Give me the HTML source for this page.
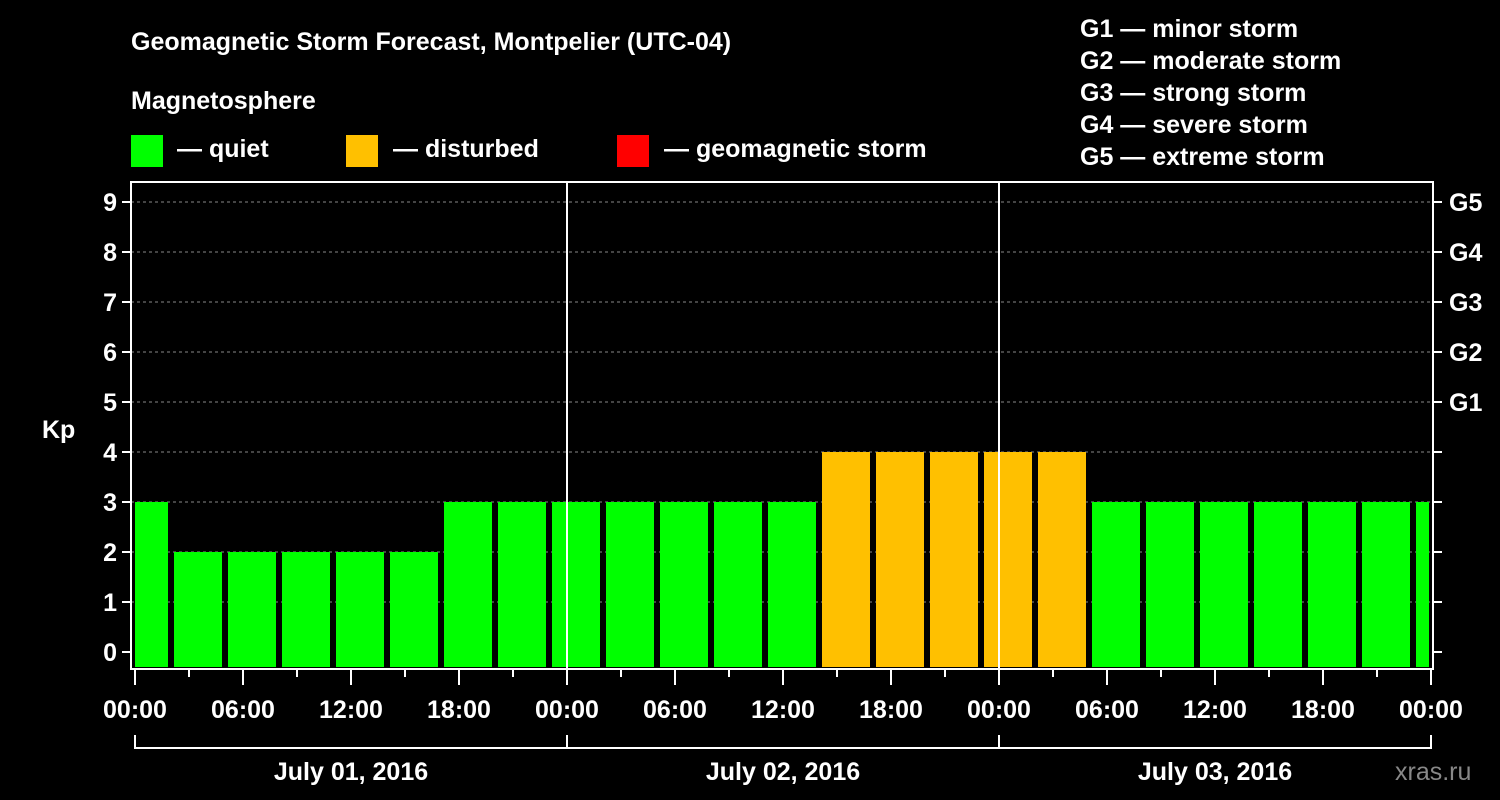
<!DOCTYPE html>
<html><head><meta charset="utf-8"><style>
body{margin:0;background:#000;width:1500px;height:800px;overflow:hidden}
svg{display:block;font-family:"Liberation Sans",Arial,sans-serif;font-weight:bold}
</style></head><body>
<svg id="c" width="1500" height="800">
<text x="131" y="50" fill="#fff" font-size="25">Geomagnetic Storm Forecast, Montpelier (UTC-04)</text>
<text x="131" y="109" fill="#fff" font-size="25">Magnetosphere</text>
<g><rect x="131" y="135" width="32" height="32" fill="#00ff00"/><text x="177" y="157" fill="#fff" font-size="25">— quiet</text></g>
<g><rect x="346" y="135" width="32" height="32" fill="#ffc000"/><text x="393" y="157" fill="#fff" font-size="25">— disturbed</text></g>
<g><rect x="617" y="135" width="32" height="32" fill="#ff0000"/><text x="664" y="157" fill="#fff" font-size="25">— geomagnetic storm</text></g>
<g fill="#fff" font-size="25">
<text x="1080" y="37">G1 — minor storm</text><text x="1080" y="69">G2 — moderate storm</text><text x="1080" y="101">G3 — strong storm</text><text x="1080" y="133">G4 — severe storm</text><text x="1080" y="165">G5 — extreme storm</text></g>
<text x="42" y="438" fill="#fff" font-size="25">Kp</text>
<text x="1395" y="780" fill="#888" font-size="25" font-weight="normal">xras.ru</text>
<g id="plot"></g>
</svg>
<script>
const kpValues=[3,2,2,2,2,2,3,3,3,3,3,3,3,4,4,4,4,4,3,3,3,3,3,3,3];
const yTicks=[0,1,2,3,4,5,6,7,8,9];
const gLabels=["G1","G2","G3","G4","G5"];
const xTickLabels=["00:00","06:00","12:00","18:00","00:00","06:00","12:00","18:00","00:00","06:00","12:00","18:00","00:00"];
const dayLabels=["July 01, 2016","July 02, 2016","July 03, 2016"];
const firstBarHour=-1;
const X0=135,PX_H=18,L=131,R=1433,T=182,B=669;
const x=h=>X0+h*PX_H;
const y=v=>652-50*v;
const NS="http://www.w3.org/2000/svg";
const g=document.getElementById('plot');
function mk(t,a,p){const e=document.createElementNS(NS,t);for(const k in a)e.setAttribute(k,a[k]);(p||g).appendChild(e);return e;}
yTicks.forEach(v=>{
  if(v>0){const l=mk('line',{x1:L,x2:R,y1:y(v),y2:y(v),stroke:'#888','stroke-dasharray':'3,3','stroke-width':1});
  
  }
  const t=mk('line',{x1:L-9,x2:L,y1:y(v),y2:y(v),stroke:'#fff','stroke-width':2});
  
  
  const t2=mk('line',{x1:R,x2:R+9,y1:y(v),y2:y(v),stroke:'#fff','stroke-width':2});
  
  
  const tx=mk('text',{x:L-14,y:y(v)+9,fill:'#fff','font-size':25,'text-anchor':'end'});
  tx.textContent=v;
  
  
});
gLabels.forEach((s,i)=>{
  const tx=mk('text',{x:R+16,y:y(5+i)+9,fill:'#fff','font-size':25});
  tx.textContent=s;
  
  
});
kpValues.forEach((v,i)=>{
  const h0=firstBarHour+3*i;
  let x1=Math.max(x(h0)+3,L+4),x2=Math.min(x(h0+3)-3,R-4);
  const r=mk('rect',{x:x1,y:y(v),width:x2-x1,height:B-2-y(v),fill:v>=5?'#ff0000':v>=4?'#ffc000':'#00ff00'});
  
  
});
[1,2].forEach(d=>{
  const l=mk('line',{x1:x(24*d),x2:x(24*d),y1:T,y2:B,stroke:'#fff','stroke-width':2});
  
  
});
const fr=mk('rect',{x:L,y:T,width:R-L,height:B-T,fill:'none',stroke:'#fff','stroke-width':2});


for(let h=0;h<=72;h+=3){
  const major=h%6===0;
  const l=mk('line',{x1:x(h),x2:x(h),y1:B,y2:major?685:677,stroke:'#fff','stroke-width':2});
  
  
}
xTickLabels.forEach((s,i)=>{
  const tx=mk('text',{x:x(6*i),y:718,fill:'#fff','font-size':25,'text-anchor':'middle'});
  tx.textContent=s;
  
  
});
dayLabels.forEach((s,i)=>{
  const p=mk('path',{d:`M${x(24*i)},735V748H${x(24*i+24)}V735`,fill:'none',stroke:'#fff','stroke-width':2});
  
  
  const tx=mk('text',{x:x(24*i+12),y:780,fill:'#fff','font-size':25,'text-anchor':'middle'});
  tx.textContent=s;
  
  
});
</script>
</body></html>
